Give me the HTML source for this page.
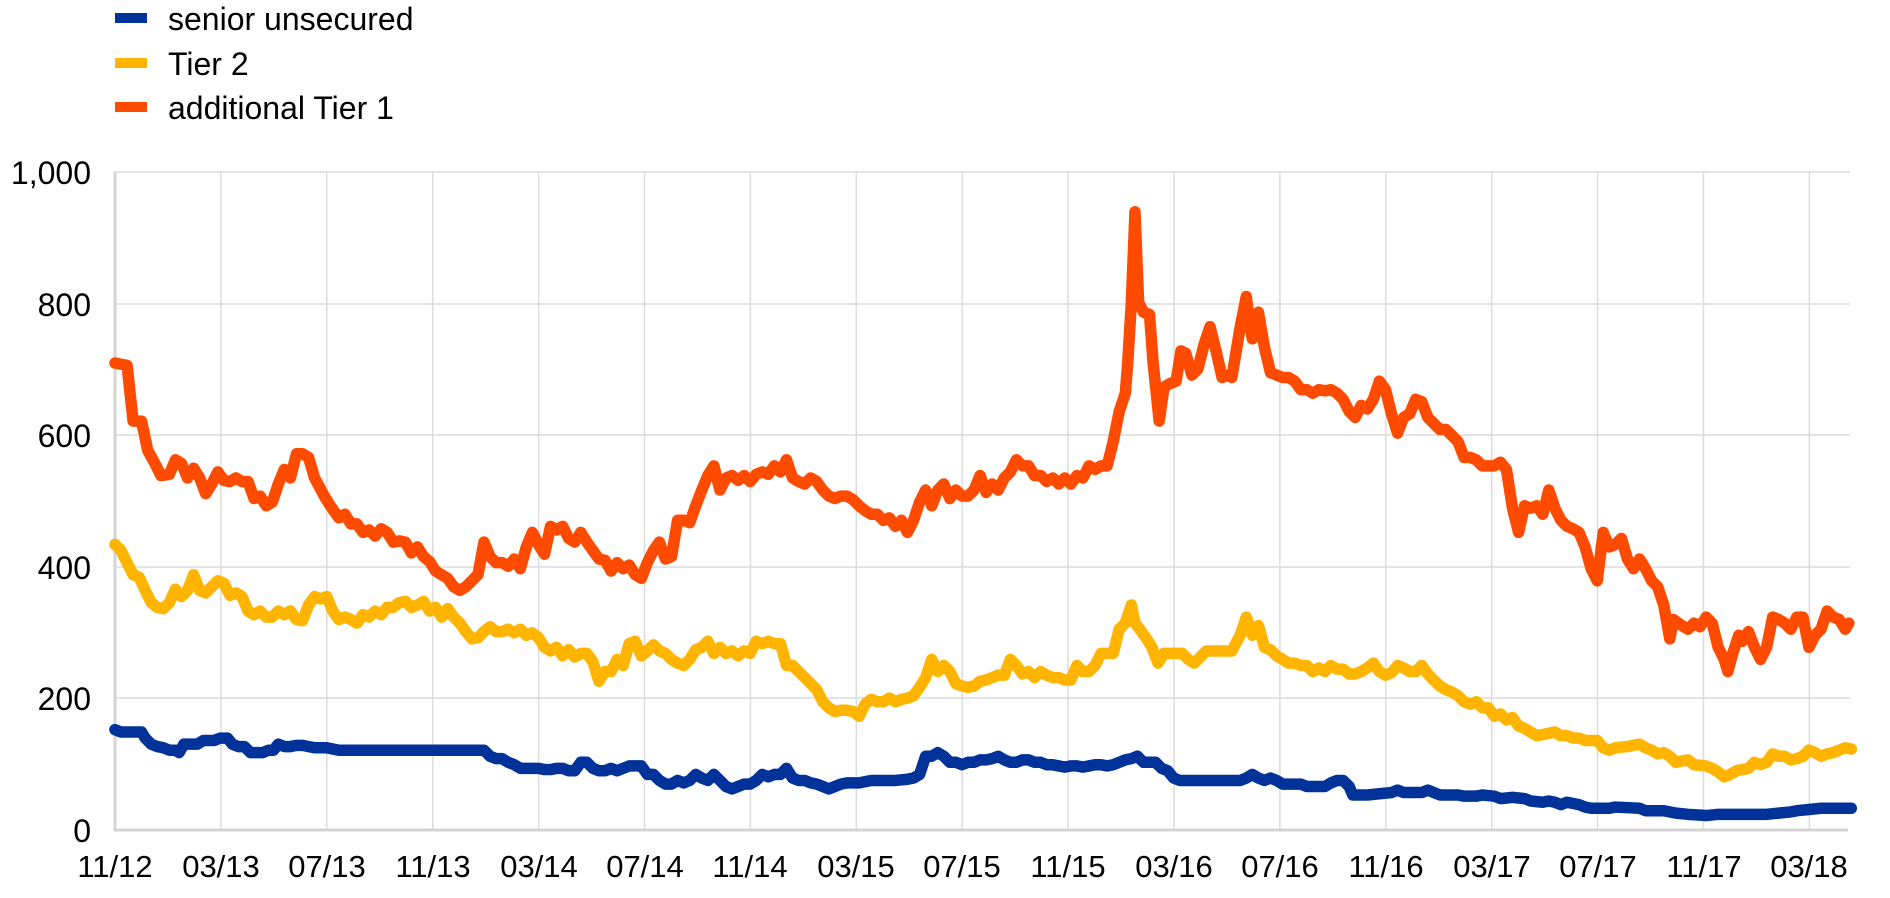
<!DOCTYPE html>
<html><head><meta charset="utf-8"><style>
html,body{margin:0;padding:0;background:#fff;}
svg{display:block;font-family:"Liberation Sans",Arial,sans-serif;}
</style></head><body>
<svg width="1890" height="898" viewBox="0 0 1890 898" xmlns="http://www.w3.org/2000/svg">
<g stroke="#dcdcdc" stroke-width="1.5">
<line x1="115" y1="172" x2="1850" y2="172"/><line x1="115" y1="304" x2="1850" y2="304"/><line x1="115" y1="435" x2="1850" y2="435"/><line x1="115" y1="567" x2="1850" y2="567"/><line x1="115" y1="698" x2="1850" y2="698"/>
<line x1="220.9" y1="172" x2="220.9" y2="830"/><line x1="326.8" y1="172" x2="326.8" y2="830"/><line x1="432.7" y1="172" x2="432.7" y2="830"/><line x1="538.6" y1="172" x2="538.6" y2="830"/><line x1="644.5" y1="172" x2="644.5" y2="830"/><line x1="750.4" y1="172" x2="750.4" y2="830"/><line x1="856.3" y1="172" x2="856.3" y2="830"/><line x1="962.2" y1="172" x2="962.2" y2="830"/><line x1="1068.1" y1="172" x2="1068.1" y2="830"/><line x1="1174" y1="172" x2="1174" y2="830"/><line x1="1279.9" y1="172" x2="1279.9" y2="830"/><line x1="1385.8" y1="172" x2="1385.8" y2="830"/><line x1="1491.7" y1="172" x2="1491.7" y2="830"/><line x1="1597.6" y1="172" x2="1597.6" y2="830"/><line x1="1703.5" y1="172" x2="1703.5" y2="830"/><line x1="1809.4" y1="172" x2="1809.4" y2="830"/>
</g>
<line x1="115" y1="172" x2="115" y2="831" stroke="#d4d4d4" stroke-width="3"/>
<line x1="114" y1="830" x2="1848" y2="830" stroke="#d4d4d4" stroke-width="3"/>
<g font-size="32" fill="#000" text-anchor="end">
<text x="91" y="184">1,000</text><text x="91" y="316">800</text><text x="91" y="447">600</text><text x="91" y="579">400</text><text x="91" y="710">200</text><text x="91" y="842">0</text>
</g>
<g font-size="31" fill="#000" text-anchor="middle">
<text x="115" y="877">11/12</text><text x="221" y="877">03/13</text><text x="327" y="877">07/13</text><text x="433" y="877">11/13</text><text x="539" y="877">03/14</text><text x="645" y="877">07/14</text><text x="750" y="877">11/14</text><text x="856" y="877">03/15</text><text x="962" y="877">07/15</text><text x="1068" y="877">11/15</text><text x="1174" y="877">03/16</text><text x="1280" y="877">07/16</text><text x="1386" y="877">11/16</text><text x="1492" y="877">03/17</text><text x="1598" y="877">07/17</text><text x="1704" y="877">11/17</text><text x="1809" y="877">03/18</text>
</g>
<rect x="115" y="13" width="32" height="10" fill="#003299"/>
<rect x="115" y="58" width="32" height="10" fill="#ffb400"/>
<rect x="115" y="102" width="32" height="10" fill="#ff4b00"/>
<g font-size="32" fill="#000">
<text x="168" y="30">senior unsecured</text><text x="168" y="75">Tier 2</text><text x="168" y="119">additional Tier 1</text>
</g>
<g transform="scale(1.21)" fill="none" stroke-width="9.5" stroke-linejoin="round" stroke-linecap="round">
<polyline stroke="#003299" points="95,603 100,605 110,605 117,605 120,610 125,615 130,617 135,618 140,620 145,620 148,622 152,615 158,615 163,615 168,612 172,612 177,612 182,610 188,610 192,615 197,617 202,617 207,622 212,622 217,622 222,620 226,620 230,615 235,617 240,617 245,616 250,616 260,618 270,618 280,620 290,620 300,620 310,620 320,620 330,620 340,620 350,620 360,620 370,620 380,620 390,620 400,620 405,625 410,627 415,627 420,630 425,632 430,635 435,635 440,635 445,635 450,636 455,636 460,635 465,635 470,637 475,637 480,630 485,630 490,635 495,637 500,637 505,635 510,637 515,635 520,633 525,633 530,633 535,640 540,640 545,645 550,648 555,648 560,645 565,647 570,645 575,640 580,643 585,645 590,640 595,645 600,650 605,652 610,650 615,648 620,648 625,645 630,640 635,642 640,640 645,640 650,635 655,643 660,645 665,645 670,647 675,648 680,650 685,652 690,650 695,648 700,647 710,647 720,645 730,645 740,645 750,644 755,643 760,640 765,625 770,625 775,622 780,625 785,630 790,630 795,632 800,630 805,630 810,628 815,628 820,627 825,625 830,628 835,630 840,630 845,628 850,628 855,630 860,630 865,632 870,632 875,633 880,634 885,633 890,633 895,634 900,633 905,632 910,632 915,633 920,632 925,630 930,628 935,627 940,625 945,630 950,630 955,630 960,635 965,637 970,643 975,645 980,645 1000,645 1025,645 1030,643 1035,640 1040,643 1045,645 1050,643 1055,645 1060,648 1075,648 1080,650 1095,650 1100,647 1105,645 1110,645 1115,650 1118,657 1130,657 1140,656 1150,655 1155,653 1160,655 1175,655 1180,653 1185,655 1190,657 1205,657 1210,658 1220,658 1225,657 1235,658 1240,660 1250,659 1260,660 1265,662 1275,663 1280,662 1285,663 1290,665 1295,663 1305,665 1310,667 1315,668 1330,668 1335,667 1355,668 1360,670 1375,670 1385,672 1395,673 1410,674 1420,673 1440,673 1460,673 1470,672 1480,671 1485,670 1495,669 1505,668 1515,668 1530,668"/>
<polyline stroke="#ffb400" points="95,450 100,455 105,465 110,475 115,477 120,488 125,498 130,502 135,503 140,498 145,487 150,493 155,488 160,475 165,488 170,490 175,485 180,480 185,482 190,492 195,490 200,493 205,505 210,508 215,505 220,510 225,510 230,505 235,508 240,505 245,512 250,513 255,500 260,493 265,495 270,493 275,505 280,512 285,510 290,512 295,515 300,508 305,510 310,505 315,508 320,502 325,502 330,498 335,497 340,502 345,500 350,497 355,505 360,502 365,510 370,503 375,510 380,515 385,522 390,528 395,527 400,522 405,518 410,522 415,522 420,520 425,523 430,520 435,525 440,523 445,527 450,535 455,538 460,535 465,542 470,537 475,543 480,540 485,540 490,547 495,563 500,555 505,555 510,545 515,550 520,532 525,530 530,542 535,538 540,533 545,538 550,540 555,545 560,548 565,550 570,545 575,537 580,535 585,530 590,540 595,535 600,540 605,538 610,542 615,538 620,540 625,530 630,532 635,530 640,532 645,532 650,550 655,550 660,555 665,560 670,565 675,570 680,580 685,585 690,588 695,587 700,587 705,588 710,592 715,582 720,578 725,580 730,580 735,577 740,580 745,578 750,577 755,575 760,568 765,560 770,545 775,555 780,550 785,555 790,565 795,567 800,568 805,567 810,563 815,562 820,560 825,558 830,558 835,545 840,550 845,557 850,555 855,560 860,555 865,558 870,560 875,560 880,562 885,562 890,550 895,555 900,555 905,550 910,540 915,540 920,540 925,520 930,515 935,500 938,515 942,520 947,527 952,535 957,548 962,540 977,540 982,545 987,548 992,543 997,538 1018,538 1025,525 1030,510 1035,525 1040,517 1045,535 1050,537 1055,542 1060,545 1065,548 1070,548 1075,550 1080,550 1085,555 1090,552 1095,555 1100,550 1105,553 1110,553 1115,557 1120,557 1125,555 1130,552 1135,548 1140,555 1145,558 1150,556 1155,550 1160,552 1165,555 1170,555 1175,550 1180,557 1185,562 1190,567 1195,570 1200,572 1205,575 1210,580 1215,582 1220,580 1225,585 1230,585 1235,592 1240,590 1245,595 1250,593 1255,600 1260,602 1265,605 1270,608 1275,607 1285,605 1290,608 1295,608 1300,610 1305,610 1310,612 1320,612 1325,618 1330,620 1335,618 1345,617 1355,615 1360,618 1365,620 1370,623 1375,622 1380,625 1385,630 1395,628 1400,632 1410,633 1415,635 1420,638 1425,642 1430,640 1435,637 1445,635 1450,630 1455,632 1460,630 1465,623 1470,625 1475,625 1480,628 1485,627 1490,625 1495,620 1500,622 1505,625 1510,623 1515,622 1520,620 1525,618 1530,619"/>
<polyline stroke="#ff4b00" points="95,300 105,302 110,348 117,348 122,372 128,383 133,393 140,392 145,380 150,383 155,395 160,387 165,395 170,408 175,400 180,390 185,397 190,398 195,395 200,398 205,398 210,412 215,410 220,418 225,415 230,400 235,388 240,395 245,375 250,375 255,378 260,395 268,410 273,418 280,428 285,425 290,433 295,433 300,440 305,438 310,443 315,437 320,440 325,448 330,447 335,448 340,457 345,452 350,460 355,464 360,472 365,475 370,478 375,485 380,488 385,485 390,480 395,475 400,448 405,460 410,465 415,465 420,468 425,462 430,470 435,452 440,440 445,450 450,458 455,435 460,438 465,435 470,445 475,448 480,440 485,448 490,455 495,462 500,463 505,472 510,465 515,470 520,467 525,475 530,478 535,465 540,455 545,448 550,462 555,460 560,430 565,430 570,432 575,418 580,405 585,393 590,385 595,405 600,395 605,393 610,397 615,393 620,398 625,392 630,390 635,392 640,385 645,390 650,380 655,395 660,398 665,400 670,395 675,398 680,405 685,410 690,412 695,410 700,410 705,413 710,418 715,422 720,425 725,425 730,430 735,428 740,435 745,430 750,440 755,430 760,415 765,405 770,418 775,405 780,400 785,412 790,405 795,410 800,410 805,405 810,393 815,407 820,400 825,405 830,395 835,390 840,380 845,385 850,385 855,393 860,393 865,398 870,395 875,400 880,395 885,400 890,393 895,395 900,385 905,388 910,385 915,385 920,365 925,340 930,325 932,300 935,250 938,175 941,250 945,258 950,260 953,300 958,348 962,320 967,317 972,315 976,290 980,292 985,310 990,305 995,285 1000,270 1005,290 1010,312 1015,310 1018,312 1025,270 1030,245 1033,270 1035,280 1040,258 1045,287 1050,308 1055,310 1060,312 1065,312 1070,315 1075,322 1080,322 1085,325 1090,322 1095,323 1100,322 1105,325 1110,330 1115,340 1120,345 1125,335 1130,338 1135,330 1140,315 1145,322 1150,342 1155,358 1160,345 1165,342 1170,330 1175,332 1180,345 1185,350 1190,355 1195,355 1200,360 1205,365 1210,378 1215,378 1220,380 1225,385 1235,385 1240,382 1245,388 1250,420 1255,440 1260,418 1265,420 1270,418 1275,425 1280,405 1285,420 1290,430 1295,435 1300,437 1305,440 1310,452 1315,470 1320,480 1325,440 1330,452 1335,450 1340,445 1345,462 1350,470 1355,462 1360,470 1365,480 1370,485 1375,500 1380,528 1383,512 1390,517 1395,520 1400,515 1405,518 1410,510 1415,515 1420,535 1425,545 1428,555 1432,540 1437,525 1440,530 1445,522 1450,535 1455,545 1460,535 1465,510 1470,512 1475,515 1480,520 1485,510 1490,510 1495,535 1500,525 1505,520 1510,505 1515,510 1520,512 1525,520 1528,515"/>
</g>
</svg>
</body></html>
